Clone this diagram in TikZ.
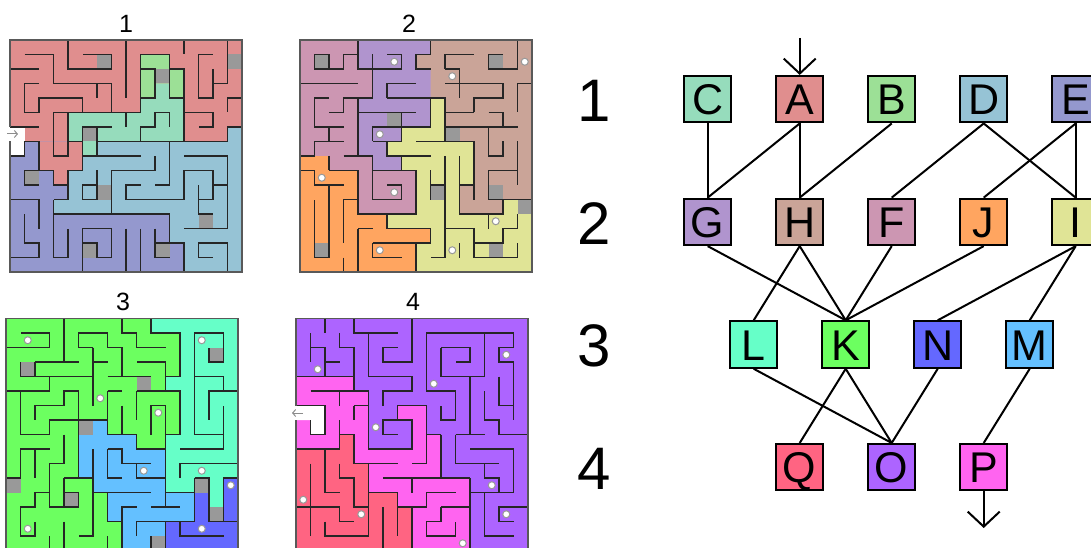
\documentclass[tikz,border=0pt]{standalone}
\usepackage{fontspec}
\setmainfont{Liberation Sans}
\usetikzlibrary{arrows.meta, positioning}
\definecolor{cA}{HTML}{E08E8E}
\definecolor{cB}{HTML}{9CE096}
\definecolor{cC}{HTML}{96DCBC}
\definecolor{cD}{HTML}{96C3D5}
\definecolor{cE}{HTML}{9498CE}
\definecolor{cF}{HTML}{CC96B2}
\definecolor{cG}{HTML}{B094CE}
\definecolor{cH}{HTML}{CAA498}
\definecolor{cI}{HTML}{E0E496}
\definecolor{cJ}{HTML}{FFA560}
\definecolor{cK}{HTML}{6CFF60}
\definecolor{cL}{HTML}{66FFC8}
\definecolor{cM}{HTML}{64C0FF}
\definecolor{cN}{HTML}{6468FF}
\definecolor{cO}{HTML}{AD64FF}
\definecolor{cP}{HTML}{FF64F0}
\definecolor{cQ}{HTML}{FF6482}
\definecolor{cBlock}{HTML}{999999}
\tikzset{
  maze/.style={x=14.5pt,y=-14.5pt},
  wall/.style={draw=black!85,line width=1.2pt},
  rim/.style={draw=black!65,line width=1.6pt},
  dot/.style={draw=black!40,fill=white,line width=1pt},
  hint/.style={draw=black!45,line width=1pt,-{Straight Barb[length=3pt,width=7pt]}},
  room/.style={rectangle,draw,line width=2pt,minimum size=46.5pt,inner sep=0pt,
    font=\fontsize{43}{43}\selectfont,text height=31pt,text depth=0pt},
  rowlabel/.style={font=\fontsize{60}{60}\selectfont,inner sep=0pt},
  mazetitle/.style={font=\fontsize{25}{25}\selectfont,inner sep=0pt},
  line/.style={line width=2pt},
  flow/.style={line width=2pt,-{Straight Barb[length=15pt,width=32pt]}}
}
\begin{document}
\begin{tikzpicture}[x=1pt,y=-1pt,node distance=74.17pt and 43.5pt]
\useasboundingbox (0,0) rectangle (1091,548);
% maze 1
\begin{scope}[xshift=10pt,yshift=-40pt,maze]
\fill[cA] (0,0) rectangle (16,7);
\fill[cE] (0,7) rectangle (16,16);
\fill[cD] (15,6)--(16,6)--(16,16)--(12,16)--(12,14)--(11,14)--(11,12)--(3,12)--(3,11)--(4,11)--(4,9)--(5,9)--(5,7)--(15,7)--cycle;
\fill[cA] (2,7) rectangle (5,9) (3,9) rectangle (4,10);
\fill[cC] (10,3)--(11,3)--(11,4)--(12,4)--(12,7)--(6,7)--(6,8)--(5,8)--(5,7)--(4,7)--(4,5)--(9,5)--(9,4)--(10,4)--cycle;
\fill[cB] (9,1) rectangle (11,2) (9,2) rectangle (10,4) (11,2) rectangle (12,4) (10,2) rectangle (11,3);
\fill[white] (0,6) rectangle (1,8);
\foreach \c/\r in {6/1,15/1,10/2,5/6,1/9,6/10,13/12,5/14,10/14}
  \fill[cBlock] (\c,\r) rectangle +(1,1);
\draw[wall] (4,0)--(4,2)--(7,2)--(7,1)--(5,1) (8,0)--(8,4) (12,0)--(12,1)
  (15,0)--(15,3)--(14,3) (14,2)--(14,4)--(13,4)--(13,1)--(14,1)
  (1,1)--(3,1)--(3,3)--(7,3)--(7,5)--(9,5)--(9,1)--(11,1)--(11,2)--(12,2)--(12,7)
  (9,2)--(10,2)--(10,4)--(9,4) (11,2)--(11,4)--(12,4) (0,2)--(2,2)
  (2,3)--(1,3)--(1,5)--(2,5)--(2,4)--(5,4)--(5,5) (6,3)--(6,4) (3,5)--(9,5)
  (5,7)--(4,7)--(4,5) (4,7)--(4,8)--(3,8)--(3,5)
  (5,7)--(5,9)--(4,9)--(4,11)--(3,11) (5,7)--(5,6)--(7,6) (6,6)--(6,8)
  (6,7)--(15,7)--(15,6)--(16,6) (5,8)--(9,8) (8,5)--(8,6)
  (9,7)--(9,6)--(10,6)--(10,5)--(11,5)--(11,6) (12,5)--(14,5)--(14,6)--(13,6)
  (16,4)--(15,4)--(15,5) (0,6)--(2,6) (0,8)--(1,8)--(1,7)--(2,7)--(2,9)--(3,9)--(3,10)--(4,10)
  (1,9)--(2,9) (2,10)--(1,10)--(1,9) (0,11)--(2,11)--(2,13)
  (3,11)--(3,15)--(4,15)--(4,13) (1,12)--(1,14)--(2,14)--(2,15)--(0,15)
  (3,12)--(11,12)--(11,14) (10,14)--(12,14)--(12,16) (10,13)--(10,15)--(11,15)
  (5,16)--(5,13)--(7,13)--(7,15)--(6,15)--(6,14)--(5,14) (8,13)--(8,16) (9,13)--(9,16)
  (6,9)--(6,11)--(5,11)--(5,10)--(6,10) (7,12)--(7,9)--(10,9)--(10,8)
  (11,7)--(11,10)--(10,10) (9,10)--(8,10)--(8,11)--(12,11)--(12,9)--(14,9)--(14,10)--(15,10)
  (13,10)--(13,12)--(14,12) (13,11)--(14,11)--(14,10) (12,13)--(15,13)--(15,8)--(12,8)
  (13,15)--(14,15) (13,15)--(13,14)--(15,14)--(15,16);
\draw[rim] (0,6)--(0,0)--(16,0)--(16,16)--(0,16)--(0,7);
\end{scope}
% maze 2
\begin{scope}[xshift=300pt,yshift=-40pt,maze]
\fill[cH] (0,0) rectangle (16,12);
\fill[cI] (9,4)--(10,4)--(10,7)--(12,7)--(12,10)--(11,10)--(11,12)--(14,12)--(14,11)--(16,11)--(16,16)--(8,16)--(8,14)--(9,14)--(9,13)--(6,13)--(6,12)--(8,12)--(8,9)--(7,9)--(7,8)--(6,8)--(6,7)--(7,7)--(7,6)--(9,6)--cycle;
\fill[cJ] (0,8)--(2,8)--(2,9)--(4,9)--(4,12)--(6,12)--(6,13)--(9,13)--(9,14)--(8,14)--(8,16)--(0,16)--cycle;
\fill[cF] (0,0)--(4,0)--(4,2)--(5,2)--(5,4)--(4,4)--(4,8)--(5,8)--(5,9)--(8,9)--(8,12)--(4,12)--(4,9)--(2,9)--(2,8)--(0,8)--cycle;
\fill[cG] (4,0)--(9,0)--(9,1)--(8,1)--(8,2)--(9,2)--(9,6)--(7,6)--(7,7)--(6,7)--(6,8)--(7,8)--(7,9)--(5,9)--(5,8)--(4,8)--(4,4)--(5,4)--(5,2)--(4,2)--cycle;
\foreach \c/\r in {1/1,13/1,6/5,10/6,9/10,13/10,15/11,1/14,13/14}
  \fill[cBlock] (\c,\r) rectangle +(1,1);
\foreach \c/\r in {6/1,15/1,10/2,5/6,1/9,6/10,13/12,5/14,10/14}
  \draw[dot] (\c+.5,\r+.5) circle (3.5pt);
\draw[wall] (4,0)--(4,2)--(7,2)--(7,1)--(6,1) (2,2)--(2,1)--(1,1)--(1,2)--(3,2)--(3,1)--(4,1)
  (5,1)--(5,4)--(3,4)--(3,5)--(2,5) (4,4)--(4,8) (2,4)--(1,4)--(1,6)--(3,6)
  (2,6)--(2,7) (3,7)--(1,7)--(1,8)--(0,8) (3,8)--(5,8)--(5,11)--(7,11)--(7,10)--(6,10)
  (2,8)--(2,9) (0,9)--(1,9)--(1,10)--(3,10) (2,9)--(4,9)--(4,11)--(3,11)--(3,14)
  (4,11)--(4,12)--(8,12)--(8,9)--(5,9) (7,8)--(7,9) (7,5)--(7,6)--(9,6)
  (9,4)--(9,6) (6,4)--(10,4)--(10,7) (10,6)--(15,6) (8,7)--(12,7)--(12,11)
  (12,10)--(11,10) (11,8)--(11,12)--(14,12)--(14,11) (13,11)--(16,11) (13,11)--(13,9)--(15,9)
  (15,7)--(15,10) (13,6)--(13,8)--(14,8)--(14,7) (13,5)--(14,5)--(14,6)
  (12,5)--(10,5) (12,5)--(12,4)--(14,4)--(14,3)--(10,3) (11,2)--(11,4) (10,2)--(11,2)
  (10,2)--(10,1)--(12,1) (14,1)--(13,1)--(13,2)--(15,2) (15,0)--(15,2)
  (9,0)--(9,1)--(8,1)--(8,2)--(9,2) (16,3)--(15,3)--(15,5) (0,3)--(4,3) (8,3)--(6,3)--(6,4)
  (4,5)--(8,5) (5,7)--(5,6)--(7,6) (7,6)--(7,7)--(5,7) (6,7)--(6,8)--(9,8)
  (9,9)--(9,11) (9,10)--(10,10) (10,8)--(10,15)--(9,15) (9,13)--(9,14)
  (6,12)--(6,13)--(9,13) (4,13)--(5,13) (4,16)--(4,13) (5,14)--(9,14) (5,14)--(5,15)--(7,15)
  (8,14)--(8,16) (3,15)--(3,16) (2,10)--(2,15)--(1,15)--(1,11)
  (10,13)--(12,13)--(12,15)--(15,15) (12,14)--(14,14)--(14,13)--(15,13)--(15,12)
  (13,12)--(13,13) (15,14)--(15,15) (11,14)--(11,15);
\draw[rim] (0,0) rectangle (16,16);
\end{scope}
% maze 3
\begin{scope}[xshift=6pt,yshift=-318.5pt,maze]
\fill[cK] (0,0) rectangle (16,16);
\fill[cL] (10,0)--(16,0)--(16,11)--(15,11)--(15,13)--(14,13)--(14,12)--(11,12)--(11,8)--(12,8)--(12,5)--(11,5)--(11,4)--(12,4)--(12,1)--(10,1)--cycle;
\fill[cM] (6,7)--(7,7)--(7,8)--(9,8)--(9,9)--(11,9)--(11,12)--(13,12)--(13,14)--(11,14)--(11,16)--(8,16)--(8,14)--(7,14)--(7,12)--(6,12)--(6,11)--(5,11)--(5,8)--(6,8)--cycle;
\fill[cN] (13,12)--(14,12)--(14,14)--(15,14)--(15,11)--(16,11)--(16,16)--(11,16)--(11,14)--(13,14)--cycle;
\foreach \c/\r in {14/2,1/3,9/4,5/7,0/11,13/11,4/12,14/13,10/15}
  \fill[cBlock] (\c,\r) rectangle +(1,1);
\foreach \c/\r in {1/1,13/1,6/5,10/6,9/10,13/10,15/11,1/14,13/14}
  \draw[dot] (\c+.5,\r+.5) circle (3.5pt);
\draw[wall] (4,0)--(4,3) (2,3)--(5,3) (0,2)--(3,2)--(3,1)--(1,1)
  (1,3)--(1,4)--(3,4)--(3,5)--(0,5) (2,3)--(2,4) (3,4)--(6,4) (6,2)--(6,6)
  (6,2)--(5,2)--(5,1)--(7,1)--(7,2)--(8,2)--(8,4) (6,3)--(7,3) (7,4)--(10,4)
  (8,0)--(8,1)--(9,1)--(9,2)--(11,2) (10,0)--(10,1)--(12,1)--(12,4)--(11,4) (11,5)--(11,3)--(9,3)
  (9,5)--(12,5)--(12,8)--(11,8) (11,9)--(11,6)--(10,6)--(10,8) (9,5)--(9,7)
  (8,6)--(8,8) (7,5)--(7,8)--(9,8)--(9,9)--(11,9) (7,5)--(8,5) (5,7)--(7,7)
  (1,5)--(1,8)--(3,8)--(3,7)--(5,7)--(5,5)--(4,5)--(4,6)--(2,6)--(2,7)
  (4,8)--(4,10)--(3,10)--(3,13)--(5,13) (3,9)--(1,9)--(1,11)--(0,11) (2,9)--(2,11)
  (5,7)--(5,11) (4,11)--(6,11) (4,11)--(4,13)--(5,13)--(5,12)--(4,12)
  (6,9)--(6,15)--(5,15) (6,12)--(10,12) (4,14)--(4,16) (3,15)--(3,16) (7,15)--(7,16)
  (7,12)--(7,14)--(8,14) (8,16)--(8,13)--(9,13) (10,13)--(12,13) (11,9)--(11,13)
  (11,12)--(13,12) (13,11)--(13,14)--(9,14)--(9,15) (10,16)--(10,15)
  (11,14)--(11,16) (12,14)--(12,15)--(15,15) (14,14)--(16,14)
  (13,11)--(14,11)--(14,14) (15,14)--(15,11)--(16,11) (12,11)--(12,10)--(16,10)
  (12,9)--(15,9)--(15,6) (13,8)--(15,8) (13,8)--(13,1)--(15,1)--(15,3)--(14,3)--(14,2)
  (13,4)--(15,4)--(15,5) (16,5)--(14,5)--(14,7)
  (7,9)--(7,11)--(8,11) (7,9)--(8,9)--(8,10)--(10,10) (9,10)--(9,11)--(11,11)
  (3,12)--(2,12)--(2,13)--(1,13)--(1,15)--(2,15)--(2,14);
\draw[rim] (0,0) rectangle (16,16);
\end{scope}
% maze 4
\begin{scope}[xshift=296pt,yshift=-318.5pt,maze]
\fill[cO] (0,0) rectangle (16,16);
\fill[cP] (0,4)--(4,4)--(4,5)--(5,5)--(5,9)--(8,9)--(8,7)--(7,7)--(7,6)--(9,6)--(9,8)--(10,8)--(10,11)--(12,11)--(12,16)--(8,16)--(8,13)--(7,13)--(7,12)--(5,12)--(5,10)--(4,10)--(4,8)--(3,8)--(3,9)--(0,9)--cycle;
\fill[cQ] (3,8)--(4,8)--(4,10)--(5,10)--(5,12)--(7,12)--(7,13)--(8,13)--(8,16)--(0,16)--(0,9)--(3,9)--cycle;
\fill[white] (0,6) rectangle (2,7) (1,7) rectangle (2,8);
\foreach \c/\r in {1/3,14/2,9/4,5/7,0/12,13/11,4/13,14/13,11/15}
  \draw[dot] (\c+.5,\r+.5) circle (3.5pt);
\draw[wall] (2,0)--(2,1) (4,0)--(4,1)--(7,1) (5,1)--(5,4)--(8,4)--(8,5)--(6,5)--(6,6)
  (8,0)--(8,3)--(6,3)--(6,2)--(7,2) (1,1)--(1,3) (1,2)--(2,2)--(2,4) (2,3)--(3,3)
  (3,1)--(3,2)--(4,2)--(4,5) (0,4)--(4,4) (1,5)--(5,5)--(5,9)--(8,9)--(8,7)--(6,7)--(6,8)--(7,8)
  (7,7)--(7,6)--(9,6)--(9,10)--(8,10) (4,6)--(5,6) (4,6)--(4,7) (3,5)--(3,6)
  (0,6)--(2,6)--(2,8)--(1,8)--(1,7) (0,9)--(3,9)--(3,7) (2,9)--(2,12)--(3,12)
  (1,10)--(1,15) (0,13)--(3,13)--(3,14)--(4,14) (2,14)--(2,15)--(5,15)--(5,12)--(7,12)--(7,15)
  (3,8)--(4,8)--(4,10)--(7,10) (3,10)--(3,11)--(4,11)--(4,13)--(5,13)--(5,10)
  (6,11)--(12,11) (8,11)--(8,12) (10,8)--(10,11) (9,8)--(10,8) (8,10)--(9,10)
  (12,11)--(12,16) (7,13)--(9,13)--(9,12)--(11,12) (6,13)--(6,16) (8,13)--(8,16)
  (10,13)--(12,13) (10,13)--(10,14)--(9,14)--(9,15)--(11,15)--(11,14)
  (12,12)--(15,12)--(15,9)--(12,9) (13,10)--(13,11)--(14,11)--(14,12) (13,10)--(14,10)
  (13,12)--(13,15)--(15,15) (16,13)--(14,13)--(14,14)--(15,14)
  (11,8)--(11,10)--(13,10) (11,8)--(13,8) (12,4)--(12,8) (10,4)--(13,4)--(13,1)
  (15,1)--(9,1)--(9,5)--(11,5)--(11,7)--(10,7)--(10,6) (10,2)--(10,4) (10,2)--(12,2)--(12,3)--(11,3)
  (15,1)--(15,2)--(14,2)--(14,3)--(15,3)--(15,7) (14,4)--(14,6)--(15,6)
  (13,5)--(13,7)--(14,7)--(14,8)--(16,8);
\draw[rim] (0,6)--(0,0)--(16,0)--(16,16)--(0,16)--(0,7);
\end{scope}
\coordinate (hinta) at (7,134);
\coordinate (hintb) at (18,134);
\coordinate (hintc) at (303,413);
\coordinate (hintd) at (292,413);
\draw[hint] (hinta) -- (hintb);
\draw[hint] (hintc) -- (hintd);
% titles and row numbers
\node[mazetitle] (t1) at (126,24) {1};
\node[mazetitle] (t2) at (409,24) {2};
\node[mazetitle] (t3) at (123,302) {3};
\node[mazetitle] (t4) at (413,302) {4};
\node[rowlabel] (r1) at (594,101) {1};
\node[rowlabel] (r2) at (594,224) {2};
\node[rowlabel] (r3) at (594,346) {3};
\node[rowlabel] (r4) at (594,469) {4};
% graph
\node[room,fill=cC] (C) at (707.7,99.2) {C};
\node[room,fill=cA,right=of C] (A) {A};
\node[room,fill=cB,right=of A] (B) {B};
\node[room,fill=cD,right=of B] (D) {D};
\node[room,fill=cE,right=of D] (E) {E};
\node[room,fill=cG,below=of C] (G) {G};
\node[room,fill=cH,right=of G] (H) {H};
\node[room,fill=cF,right=of H] (F) {F};
\node[room,fill=cJ,right=of F] (J) {J};
\node[room,fill=cI,right=of J] (I) {I};
\node[room,fill=cL,below=of G,xshift=46pt] (L) {L};
\node[room,fill=cK,right=of L] (K) {K};
\node[room,fill=cN,right=of K] (N) {N};
\node[room,fill=cM,right=of N] (M) {M};
\node[room,fill=cQ,below=of L,xshift=46pt] (Q) {Q};
\node[room,fill=cO,right=of Q] (O) {O};
\node[room,fill=cP,right=of O] (P) {P};
\coordinate (start) at (799.7,38);
\coordinate (finish) at (983.7,528);
\draw[flow] (start) -- (A);
\draw[flow] (P) -- (finish);
\draw[line] (C.south) -- (G.north);
\draw[line] (A.south) -- (G.north);
\draw[line] (A.south) -- (H.north);
\draw[line] (B.south) -- (H.north);
\draw[line] (D.south) -- (F.north);
\draw[line] (D.south) -- (I.north);
\draw[line] (E.south) -- (J.north);
\draw[line] (E.south) -- (I.north);
\draw[line] (G.south) -- (K.north);
\draw[line] (H.south) -- (L.north);
\draw[line] (H.south) -- (K.north);
\draw[line] (F.south) -- (K.north);
\draw[line] (J.south) -- (K.north);
\draw[line] (I.south) -- (N.north);
\draw[line] (I.south) -- (M.north);
\draw[line] (L.south) -- (O.north);
\draw[line] (K.south) -- (Q.north);
\draw[line] (K.south) -- (O.north);
\draw[line] (N.south) -- (O.north);
\draw[line] (M.south) -- (P.north);
\end{tikzpicture}
\end{document}
